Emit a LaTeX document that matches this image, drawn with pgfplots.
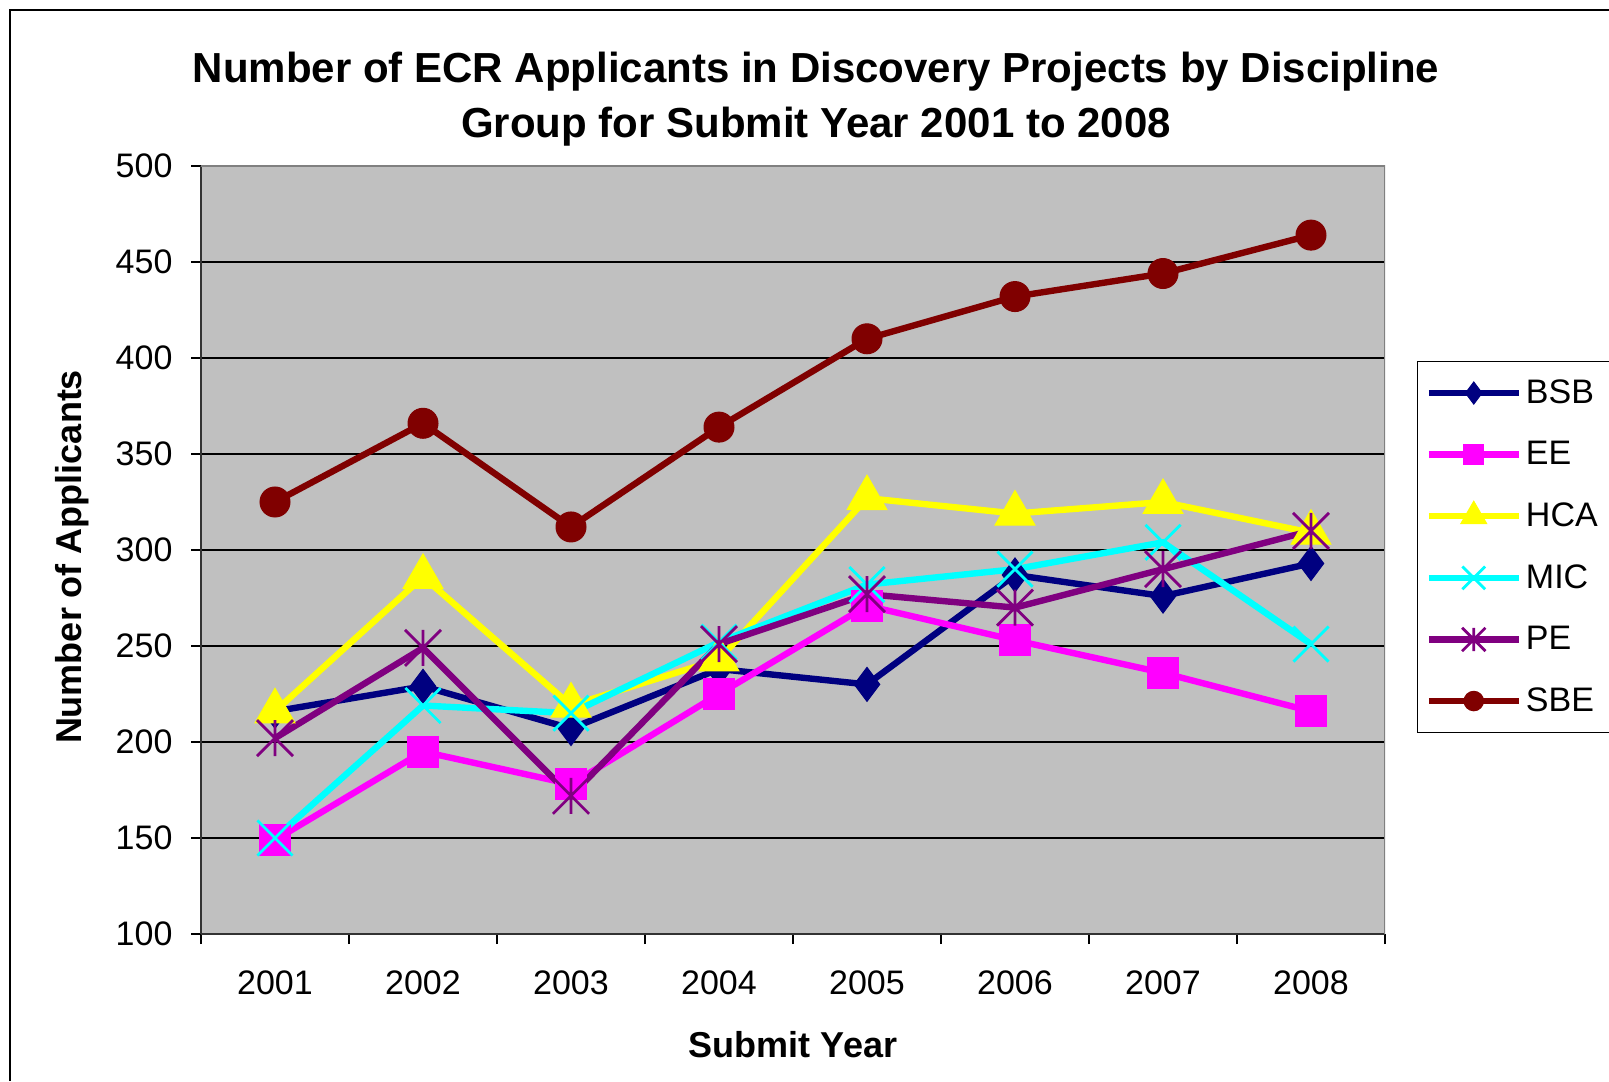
\documentclass[border=0pt]{standalone}
\usepackage{fontspec}
\setmainfont{Liberation Sans}
\usepackage{pgfplots}
\pgfplotsset{compat=1.18}
\definecolor{bsb}{RGB}{0,0,128}
\definecolor{ee}{RGB}{255,0,255}
\definecolor{hca}{RGB}{255,255,0}
\definecolor{mic}{RGB}{0,255,255}
\definecolor{pe}{RGB}{128,0,128}
\definecolor{sbe}{RGB}{128,0,0}
\definecolor{plotbg}{RGB}{192,192,192}
\pgfdeclareplotmark{xstar}{%
  \pgfpathmoveto{\pgfqpoint{0pt}{-\pgfplotmarksize}}%
  \pgfpathlineto{\pgfqpoint{0pt}{\pgfplotmarksize}}%
  \pgfpathmoveto{\pgfqpoint{-\pgfplotmarksize}{-\pgfplotmarksize}}%
  \pgfpathlineto{\pgfqpoint{\pgfplotmarksize}{\pgfplotmarksize}}%
  \pgfpathmoveto{\pgfqpoint{-\pgfplotmarksize}{\pgfplotmarksize}}%
  \pgfpathlineto{\pgfqpoint{\pgfplotmarksize}{-\pgfplotmarksize}}%
  \pgfusepathqstroke}
\begin{document}
\begin{tikzpicture}
\useasboundingbox (0,0) rectangle (804.5pt,540.5pt);
\draw[line width=0.6pt] (5pt,0) -- (5pt,535.5pt) -- (804.5pt,535.5pt);
\node[font=\fontsize{21}{27.5}\selectfont\bfseries, align=center] at (408pt,490.75pt)
  {Number of ECR Applicants in Discovery Projects by Discipline\\Group for Submit Year 2001 to 2008};
\begin{axis}[
  at={(100.5pt,73.5pt)}, anchor=south west,
  scale only axis, width=592pt, height=384pt,
  xmin=-0.5, xmax=7.5, ymin=100, ymax=500,
  xtick={0,1,2,3,4,5,6,7},
  xticklabels={2001,2002,2003,2004,2005,2006,2007,2008},
  ytick={100,150,...,500},
  minor xtick={-0.5,0.5,...,7.5},
  minor ytick={100,150,...,500},
  major tick length=0pt, minor tick length=5pt,
  tick align=outside,
  tick style={black, line width=0.6pt},
  axis x line*=bottom, axis y line*=left,
  axis line style={black!80, line width=1pt},
  ymajorgrids, major grid style={black, line width=0.6pt},
  axis background/.style={fill=plotbg},
  /pgf/number format/assume math mode=true,
  tick label style={font=\fontsize{17}{20}\selectfont},
  yticklabel style={xshift=-10.75pt},
  xticklabel style={yshift=-15pt},
  xlabel={Submit Year},
  ylabel={Number of Applicants},
  label style={font=\fontsize{18}{21}\selectfont\bfseries},
  xlabel style={at={(axis description cs:0.5,-0.1445)}, anchor=center},
  ylabel style={at={(axis description cs:-0.109,0.4909)}, anchor=center},
  legend style={at={(axis description cs:1.027,0.746)}, anchor=north west,
    draw=black, fill=white, line width=0.6pt, font=\fontsize{17}{20}\selectfont,
    row sep=13.5pt, inner xsep=4pt, inner ysep=7pt, nodes={inner sep=2pt}},
  legend cell align=left,
  legend image code/.code={\draw[mark repeat=2, mark phase=2, every mark/.append style={scale=0.65}]
     plot coordinates {(0pt,0pt) (22.5pt,0pt) (45pt,0pt)};},
  every axis plot/.append style={line width=3.2pt},
]
\addplot[color=bsb, mark=diamond*, mark size=8.5pt, mark options={solid, line width=0.5pt}]
  coordinates {(0,216) (1,229) (2,207) (3,238) (4,230) (5,287) (6,276) (7,293)};
\addlegendentry{BSB}
\addplot[color=ee, mark=square*, mark size=7.8pt, mark options={solid, line width=0.5pt}]
  coordinates {(0,149) (1,195) (2,178) (3,225) (4,271) (5,253) (6,236) (7,216)};
\addlegendentry{EE}
\addplot[color=hca, mark=triangle*, mark size=11.5pt, mark options={solid, line width=0.5pt}]
  coordinates {(0,216) (1,286) (2,219) (3,243) (4,327) (5,319) (6,325) (7,309)};
\addlegendentry{HCA}
\addplot[color=mic, mark=x, mark size=12.4pt, mark options={solid, line width=1.4pt}]
  coordinates {(0,150) (1,219) (2,215) (3,252) (4,282) (5,290) (6,304) (7,251)};
\addlegendentry{MIC}
\addplot[color=pe, mark=xstar, mark size=9pt, mark options={solid, line width=1.4pt}]
  coordinates {(0,202) (1,249) (2,172) (3,251) (4,277) (5,270) (6,290) (7,310)};
\addlegendentry{PE}
\addplot[color=sbe, mark=*, mark size=7.5pt, mark options={solid, line width=0.5pt}]
  coordinates {(0,325) (1,366) (2,312) (3,364) (4,410) (5,432) (6,444) (7,464)};
\addlegendentry{SBE}
\draw[gray, line width=1.5pt] (rel axis cs:0,1) -- (rel axis cs:1,1) -- (rel axis cs:1,0);
\end{axis}
\end{tikzpicture}
\end{document}
